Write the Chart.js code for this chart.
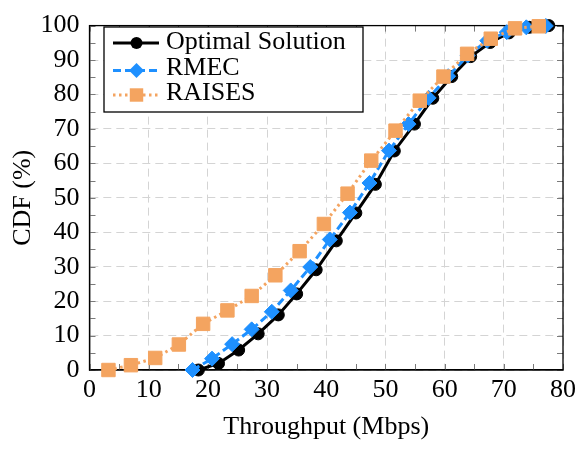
<!DOCTYPE html>
<html>
<head>
<meta charset="utf-8">
<script src="https://cdn.jsdelivr.net/npm/chart.js@4.4.0/dist/chart.umd.min.js"></script>
<style>
  body { margin: 0; background: #fff; }
</style>
</head>
<body>
<canvas id="cdfChart" width="587" height="449"></canvas>
<script>
// throughput (Mbps) / CDF (%)
const optimalX = [18.4, 21.8, 25.2, 28.5, 31.9, 35.0, 38.3, 41.7, 45.0, 48.3, 51.5, 54.9, 58.0, 61.2, 64.4, 67.7, 70.9, 74.3, 77.6];
const optimalY = [0, 1.9, 5.8, 10.5, 16.0, 22.1, 29.1, 37.5, 45.6, 53.9, 63.6, 71.4, 78.9, 85.2, 91.0, 95.1, 97.9, 99.5, 100];

const rmecX = [17.4, 20.7, 24.1, 27.4, 30.8, 34.0, 37.3, 40.6, 44.0, 47.3, 50.6, 53.9, 57.3, 60.6, 63.9, 67.2, 70.5, 73.8, 77.1];
const rmecY = [0, 3.3, 7.5, 11.8, 16.9, 23.1, 29.9, 37.9, 45.7, 54.3, 63.7, 71.4, 79.0, 85.3, 91.3, 95.6, 98.1, 99.5, 99.9];

const raisesX = [3.2, 7.0, 11.1, 15.1, 19.2, 23.3, 27.4, 31.4, 35.5, 39.6, 43.6, 47.6, 51.7, 55.8, 59.8, 63.8, 67.8, 71.9, 75.9];
const raisesY = [0, 1.4, 3.5, 7.4, 13.4, 17.3, 21.5, 27.5, 34.5, 42.4, 51.2, 60.8, 69.5, 78.2, 85.2, 91.8, 96.2, 99.2, 99.8];

const seriesNames = ['Optimal Solution', 'RMEC', 'RAISES'];
const xTitle = 'Throughput (Mbps)';
const yTitle = 'CDF (%)';

const BLACK = '#000000';
const BLUE = '#1E90FF';
const ORANGE = '#F4A460';

const toPoints = (xs, ys) => xs.map((x, i) => ({ x: x, y: ys[i] }));

Chart.defaults.font.family = "'Liberation Serif', 'Times New Roman', serif";
Chart.defaults.font.size = 26;
Chart.defaults.color = '#000';

// frame + small inward ticks every 5 units on all four sides
const framePlugin = {
  id: 'frame',
  beforeDatasetsDraw(chart) {
    const { ctx, chartArea: a, scales } = chart;
    ctx.save();
    ctx.strokeStyle = '#7a7a7a';
    ctx.lineWidth = 1;
    ctx.beginPath();
    for (let v = 0; v <= 80; v += 5) {
      const px = Math.round(scales.x.getPixelForValue(v)) + 0.5;
      ctx.moveTo(px, a.bottom);
      ctx.lineTo(px, a.bottom - 6);
      ctx.moveTo(px, a.top);
      ctx.lineTo(px, a.top + 6);
    }
    for (let v = 0; v <= 100; v += 5) {
      const py = Math.round(scales.y.getPixelForValue(v)) + 0.5;
      ctx.moveTo(a.left, py);
      ctx.lineTo(a.left + 6, py);
      ctx.moveTo(a.right, py);
      ctx.lineTo(a.right - 6, py);
    }
    ctx.stroke();
    ctx.strokeStyle = '#000';
    ctx.lineWidth = 1.3;
    ctx.strokeRect(a.left, a.top, a.width, a.height);
    ctx.restore();
  },
};

// legend box in the upper left corner of the plot
const legendPlugin = {
  id: 'boxLegend',
  afterDraw(chart) {
    const ctx = chart.ctx;
    const box = { left: 104, top: 27, right: 363, bottom: 112 };
    ctx.save();
    ctx.fillStyle = '#fff';
    ctx.fillRect(box.left, box.top, box.right - box.left, box.bottom - box.top);
    ctx.strokeStyle = '#000';
    ctx.lineWidth = 1.3;
    ctx.strokeRect(box.left, box.top, box.right - box.left, box.bottom - box.top);

    const rows = [43, 70.5, 95];
    const textRows = [42.5, 68, 93];
    chart.data.datasets.forEach((ds, i) => {
      const y = rows[i];
      ctx.strokeStyle = ds.borderColor;
      ctx.fillStyle = ds.backgroundColor;
      ctx.lineWidth = ds.borderWidth;
      ctx.setLineDash(ds.borderDash || []);
      ctx.beginPath();
      ctx.moveTo(113, y);
      ctx.lineTo(159, y);
      ctx.stroke();
      ctx.setLineDash([]);
      const cx = 136.5;
      const r = ds.pointRadius;
      ctx.beginPath();
      if (ds.pointStyle === 'circle') {
        ctx.arc(cx, y, r, 0, Math.PI * 2);
      } else if (ds.pointStyle === 'rectRot') {
        ctx.moveTo(cx, y - r);
        ctx.lineTo(cx + r, y);
        ctx.lineTo(cx, y + r);
        ctx.lineTo(cx - r, y);
        ctx.closePath();
      } else {
        const s = r * Math.SQRT1_2;
        ctx.rect(cx - s, y - s, 2 * s, 2 * s);
      }
      ctx.fill();
      ctx.fillStyle = '#000';
      ctx.font = "26px 'Liberation Serif', 'Times New Roman', serif";
      ctx.textBaseline = 'middle';
      ctx.textAlign = 'left';
      ctx.fillText(ds.label, 166, textRows[i]);
    });
    ctx.restore();
  },
};

const ctx = document.getElementById('cdfChart');
new Chart(ctx, {
  type: 'line',
  data: {
    datasets: [
      {
        label: seriesNames[0],
        data: toPoints(optimalX, optimalY),
        borderColor: BLACK,
        backgroundColor: BLACK,
        borderWidth: 3,
        pointStyle: 'circle',
        pointRadius: 6,
        pointBorderWidth: 1,
        order: 3,
      },
      {
        label: seriesNames[1],
        data: toPoints(rmecX, rmecY),
        borderColor: BLUE,
        backgroundColor: BLUE,
        borderWidth: 3,
        borderDash: [8, 4],
        pointStyle: 'rectRot',
        pointRadius: 7.5,
        pointBorderWidth: 1,
        order: 2,
      },
      {
        label: seriesNames[2],
        data: toPoints(raisesX, raisesY),
        borderColor: ORANGE,
        backgroundColor: ORANGE,
        borderWidth: 3,
        borderDash: [2.5, 3.5],
        pointStyle: 'rect',
        pointRadius: 9.5,
        pointBorderWidth: 1,
        order: 1,
      },
    ],
  },
  options: {
    responsive: false,
    animation: false,
    clip: false,
    layout: { padding: { left: 0, top: 16, right: 24, bottom: 0 } },
    plugins: {
      legend: { display: false },
      tooltip: { enabled: false },
    },
    elements: { line: { tension: 0 } },
    scales: {
      x: {
        type: 'linear',
        min: 0,
        max: 80,
        ticks: { stepSize: 10, padding: 5, color: '#000' },
        grid: { color: '#d4d4d4', lineWidth: 1, drawTicks: false },
        border: { display: true, color: '#000', width: 1.3, dash: [8, 5] },
        title: { display: true, text: xTitle, padding: { top: 0, bottom: 6 }, color: '#000' },
        afterFit: (scale) => { scale.height = 79; },
      },
      y: {
        type: 'linear',
        min: 0,
        max: 100,
        ticks: { stepSize: 10, padding: 10, color: '#000' },
        grid: { color: '#d4d4d4', lineWidth: 1, drawTicks: false },
        border: { display: true, color: '#000', width: 1.3, dash: [8, 5] },
        title: { display: true, text: yTitle, padding: { top: 8, bottom: 0 }, color: '#000' },
        afterFit: (scale) => { scale.width = 89.5; },
      },
    },
  },
  plugins: [framePlugin, legendPlugin],
});
</script>
</body>
</html>
